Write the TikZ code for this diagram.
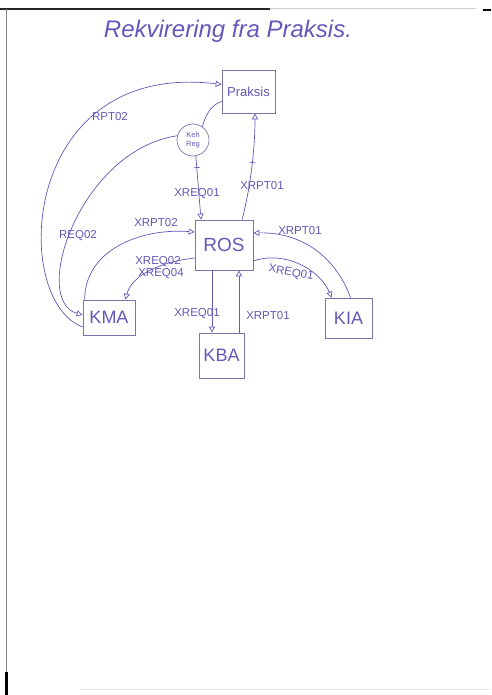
\documentclass[tikz,border=0pt]{standalone}
\usepackage{fontspec}
\setmainfont{Liberation Sans}
\usetikzlibrary{arrows.meta}
\definecolor{pen}{RGB}{100,88,185}
\definecolor{boxc}{RGB}{125,115,170}
\begin{document}
\begin{tikzpicture}[x=1pt,y=-1pt,
  box/.style={draw=boxc, line width=0.7pt, inner sep=0pt, text=pen, font=\fontsize{18}{18}\selectfont},
  conn/.style={draw=pen, line width=0.7pt, -{Triangle[open,length=6pt,width=6pt]}},
  plain/.style={draw=pen, line width=0.7pt},
  lab/.style={text=pen, font=\fontsize{11.5}{12}\selectfont, inner sep=0pt},
  tickmark/.style={draw=pen, line width=0.7pt, minimum width=0pt, minimum height=6pt, inner sep=0pt, sloped}]
\useasboundingbox (0,0) rectangle (491,695);
\fill[white] (0,0) rectangle (491,695);
% page edges
\draw[black!85, line width=1.5pt] (0,9) -- (270,9);
\draw[black!18, line width=1pt] (270,9) -- (476,9);
\draw[black, line width=2pt] (483,10.5) -- (491,10.5);
\draw[black!50, line width=1pt] (6,9) -- (6,695);
\draw[black, line width=3pt] (6,672) -- (6,695);
\draw[black!8, line width=1pt] (80,689) -- (491,689);
% title
\node[text=pen, font=\fontsize{24}{24}\selectfont\itshape] (title) at (228,31) {Rekvirering fra Praksis.};
% nodes
\node[box, minimum width=53pt, minimum height=43pt, font=\fontsize{13}{13}\selectfont] (praksis) at (248.5,91.5) {Praksis};
\node[draw=boxc, line width=0.7pt, circle, minimum size=32pt, inner sep=0pt, text=pen, align=center, font=\fontsize{7.5}{8.5}\selectfont] (keh) at (193,140) {Keh\\Reg};
\node[box, minimum width=58pt, minimum height=50pt, font=\fontsize{19}{19}\selectfont] (ros) at (224,245) {ROS};
\node[box, minimum width=52pt, minimum height=35pt] (kma) at (109,317.5) {KMA};
\node[box, minimum width=45pt, minimum height=45pt] (kba) at (221.5,355.5) {KBA};
\node[box, minimum width=47pt, minimum height=40pt] (kia) at (348.5,318) {KIA};
% connectors
\draw[conn] ([yshift=-9.5pt]kma.west) .. controls (10,300) and (20,60) .. ([yshift=7pt]praksis.west);
\draw[conn] (keh.165) .. controls (80,150) and (30,300) .. ([yshift=2.5pt]kma.west);
\draw[plain] (keh.55) .. controls (207,110) and (214,104) .. ([yshift=-10pt]praksis.west);
\draw[conn] ([xshift=2pt]kma.north west) .. controls (85,250) and (140,228) .. ([yshift=13pt]ros.west);
\draw[conn] ([yshift=-13pt]ros.west) .. controls (160,262) and (132,275) .. ([xshift=-10pt]kma.north east);
\draw[conn] (keh.-80) -- node[tickmark, pos=0.18] {} ([xshift=-23pt]ros.north);
\draw[conn] ([xshift=18pt]ros.north) .. controls (250,190) and (255,150) .. node[tickmark, pos=0.56] {} ([xshift=6.5pt]praksis.south);
\draw[conn] ([xshift=2pt]kia.north) .. controls (335,255) and (300,232) .. ([yshift=12pt]ros.east);
\draw[conn] ([yshift=-16pt]ros.east) .. controls (285,250) and (320,270) .. ([xshift=7pt]kia.north west);
\draw[conn] ([xshift=-12pt]ros.south) -- ([xshift=-9.5pt]kba.north);
\draw[conn] ([xshift=17.5pt]kba.north) -- ([xshift=15pt]ros.south);
% labels
\node[lab] (lrpt02) at (110,117) {RPT02};
\node[lab] (lreq02) at (78,236) {REQ02};
\node[lab] (lxreq01a) at (197,194) {XREQ01};
\node[lab] (lxrpt01a) at (262,186) {XRPT01};
\node[lab] (lxrpt02) at (156,223) {XRPT02};
\node[lab] (lxrpt01b) at (300,231) {XRPT01};
\node[lab] (lxreq02) at (158,261.5) {XREQ02};
\node[lab] (lxreq04) at (161,273.5) {XREQ04};
\node[lab, rotate=-10] (lxreq01b) at (291,273) {XREQ01};
\node[lab] (lxreq01c) at (197,314) {XREQ01};
\node[lab] (lxrpt01c) at (268,316) {XRPT01};
\end{tikzpicture}
\end{document}
